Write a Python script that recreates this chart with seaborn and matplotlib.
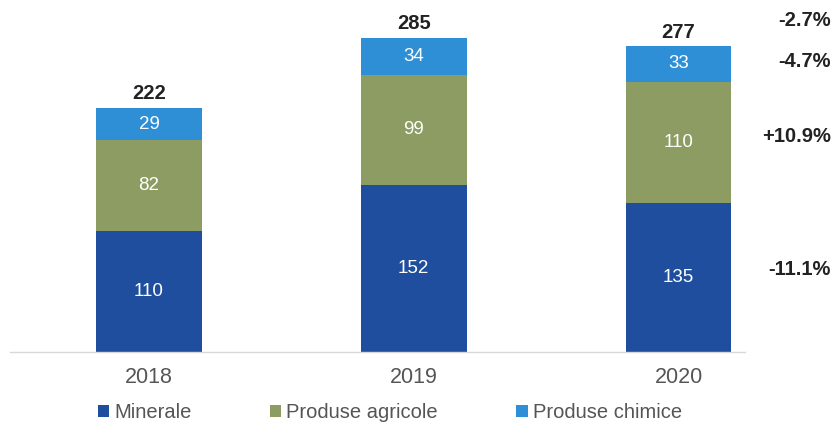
import matplotlib
matplotlib.use("Agg")
import matplotlib.pyplot as plt
import matplotlib.transforms as mtransforms
from matplotlib.patches import Patch
import seaborn as sns
import pandas as pd
import numpy as np

years = ["2018", "2019", "2020"]
minerale = [110, 152, 135]
agricole = [82, 99, 110]
chimice = [29, 34, 33]
totals = [222, 285, 277]
series_names = ["Minerale", "Produse agricole", "Produse chimice"]
changes = ["-11.1%", "+10.9%", "-4.7%", "-2.7%"]
change_y = [75, 196, 264, 301]

colors = ["#1f4e9e", "#8c9c62", "#2f8fd6"]

sns.set_theme(style="white")
plt.rcParams['font.family'] = ['Liberation Sans', 'DejaVu Sans']

fig = plt.figure(figsize=(8.33, 4.3), dpi=100)
ax = fig.add_axes([0.012, 0.181, 0.882, 0.772])

m = np.array(minerale)
a = np.array(agricole)
c = np.array(chimice)
df = pd.DataFrame({"year": years, "l1": m, "l2": m + a, "l3": m + a + c})

for col, colr in zip(["l3", "l2", "l1"], colors[::-1]):
    sns.barplot(data=df, x="year", y=col, color=colr, width=0.4, ax=ax,
                saturation=1, order=years, linewidth=0)

for i in range(3):
    ax.text(i, m[i] / 2, str(m[i]), ha="center", va="center", color="white", fontsize=13.5)
    ax.text(i, m[i] + a[i] / 2, str(a[i]), ha="center", va="center", color="white", fontsize=13.5)
    ax.text(i, m[i] + a[i] + c[i] / 2, str(c[i]), ha="center", va="center", color="white", fontsize=13.5)
    ax.text(i, totals[i] + 4, str(totals[i]), ha="center", va="bottom", color="#222222",
            fontsize=14.5, fontweight="bold")

trans = mtransforms.blended_transform_factory(fig.transFigure, ax.transData)
for t, yv in zip(changes, change_y):
    ax.text(0.997, yv, t, transform=trans, ha="right", va="center", fontsize=14.5,
            fontweight="bold", color="#222222")

ax.set_xlim(-0.525, 2.25)
ax.set_ylim(0, 301)
ax.set_xlabel("")
ax.set_ylabel("")
ax.set_yticks([])
for s in ["top", "right", "left"]:
    ax.spines[s].set_visible(False)
ax.spines["bottom"].set_color("#d9d9d9")
ax.spines["bottom"].set_linewidth(1)
ax.tick_params(axis="x", length=0, labelsize=15.5, labelcolor="#555555", pad=11)

handles = [Patch(facecolor=col, edgecolor="none") for col in colors]
fig.legend(handles, series_names, loc="center left", bbox_to_anchor=(80 / 833, 0.04), ncol=3,
           frameon=False, handlelength=0.55, handleheight=0.55, handletextpad=0.25,
           columnspacing=3.9, fontsize=14.5, labelcolor="#555555")

fig.savefig("out.png", dpi=100)
